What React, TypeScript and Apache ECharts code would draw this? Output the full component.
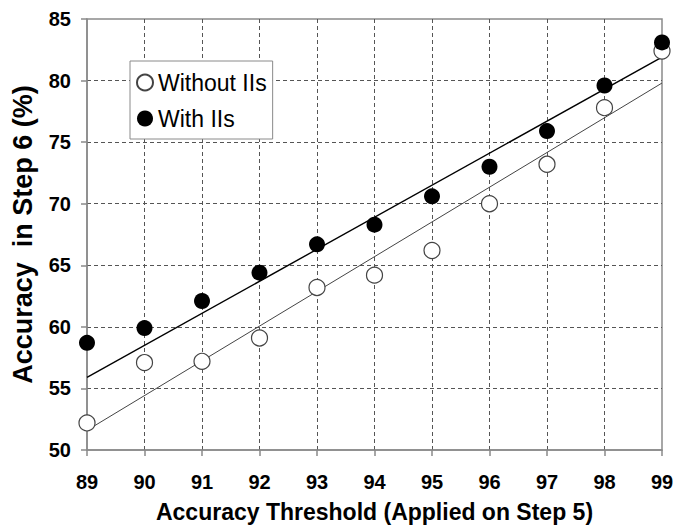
import React, { useEffect, useRef } from "react";
import * as echarts from "echarts";

const thresholds = [89, 90, 91, 92, 93, 94, 95, 96, 97, 98, 99];
const withoutIIs = [52.2, 57.1, 57.2, 59.1, 63.2, 64.2, 66.2, 70.0, 73.2, 77.8, 82.4];
const withIIs = [58.7, 59.9, 62.1, 64.4, 66.7, 68.3, 70.6, 73.0, 75.9, 79.6, 83.1];
const trendX = [89, 99];
const trendWithout = [51.6, 79.8];
const trendWith = [55.9, 81.9];
const seriesNames = ["Without IIs", "With IIs"];

const FONT = "'Liberation Sans', Arial, sans-serif";

export default function App() {
  const ref = useRef<HTMLDivElement>(null);
  useEffect(() => {
    if (!ref.current) return;
    document.body.style.margin = "0";
    const chart = echarts.init(ref.current, undefined, { renderer: "svg" });
    const pairs = (xs: number[], ys: number[]) => xs.map((x, i) => [x, ys[i]]);
    chart.setOption({
      animation: false,
      backgroundColor: "#fff",
      textStyle: { fontFamily: FONT },
      grid: {
        left: 87,
        right: 24,
        top: 19,
        bottom: 75,
        show: true,
        borderColor: "#8a8a8a",
        borderWidth: 1.5,
        backgroundColor: "transparent",
      },
      legend: {
        data: seriesNames,
        orient: "vertical",
        left: 130,
        top: 61,
        backgroundColor: "#fff",
        borderColor: "#8a8a8a",
        borderWidth: 1,
        borderRadius: 0,
        padding: [10, 6, 9, 6],
        itemGap: 13,
        itemWidth: 16,
        itemHeight: 16,
        icon: "circle",
        textStyle: { fontFamily: FONT, fontSize: 23, color: "#000" },
      },
      xAxis: {
        type: "value",
        min: 89,
        max: 99,
        interval: 1,
        name: "Accuracy Threshold (Applied on Step 5)",
        nameLocation: "middle",
        nameGap: 50,
        nameTextStyle: { fontFamily: FONT, fontSize: 23, fontWeight: "bold", color: "#000" },
        axisLine: { show: true, lineStyle: { color: "#8a8a8a", width: 1.5 } },
        axisTick: { show: true, length: 6, lineStyle: { color: "#8a8a8a", width: 1.5 } },
        axisLabel: { fontFamily: FONT, fontSize: 20, fontWeight: "bold", color: "#000", margin: 22 },
        splitLine: {
          show: true,
          showMinLine: false,
          showMaxLine: false,
          lineStyle: { color: "#555", type: [4, 3], width: 1 },
        },
      },
      yAxis: {
        type: "value",
        min: 50,
        max: 85,
        interval: 5,
        name: "Accuracy  in Step 6 (%)",
        nameLocation: "middle",
        nameGap: 51,
        nameTextStyle: { fontFamily: FONT, fontSize: 27, fontWeight: "bold", color: "#000" },
        axisLine: { show: true, lineStyle: { color: "#8a8a8a", width: 1.5 } },
        axisTick: { show: true, length: 6, lineStyle: { color: "#8a8a8a", width: 1.5 } },
        axisLabel: { fontFamily: FONT, fontSize: 20, fontWeight: "bold", color: "#000", margin: 16 },
        splitLine: {
          show: true,
          showMinLine: false,
          showMaxLine: false,
          lineStyle: { color: "#555", type: [4, 3], width: 1 },
        },
      },
      series: [
        {
          name: "trend-without",
          type: "line",
          data: pairs(trendX, trendWithout),
          symbol: "none",
          lineStyle: { color: "#444", width: 1 },
          z: 2,
        },
        {
          name: "trend-with",
          type: "line",
          data: pairs(trendX, trendWith),
          symbol: "none",
          lineStyle: { color: "#000", width: 1.4 },
          z: 2,
        },
        {
          name: seriesNames[0],
          type: "scatter",
          data: pairs(thresholds, withoutIIs),
          symbol: "circle",
          symbolSize: 16,
          itemStyle: { color: "#fff", borderColor: "#444", borderWidth: 1.2, opacity: 1 },
          z: 3,
        },
        {
          name: seriesNames[1],
          type: "scatter",
          data: pairs(thresholds, withIIs),
          symbol: "circle",
          symbolSize: 16,
          itemStyle: { color: "#000", opacity: 1 },
          z: 4,
        },
      ],
    });
    return () => chart.dispose();
  }, []);
  return <div ref={ref} style={{ width: 686, height: 528 }} />;
}
